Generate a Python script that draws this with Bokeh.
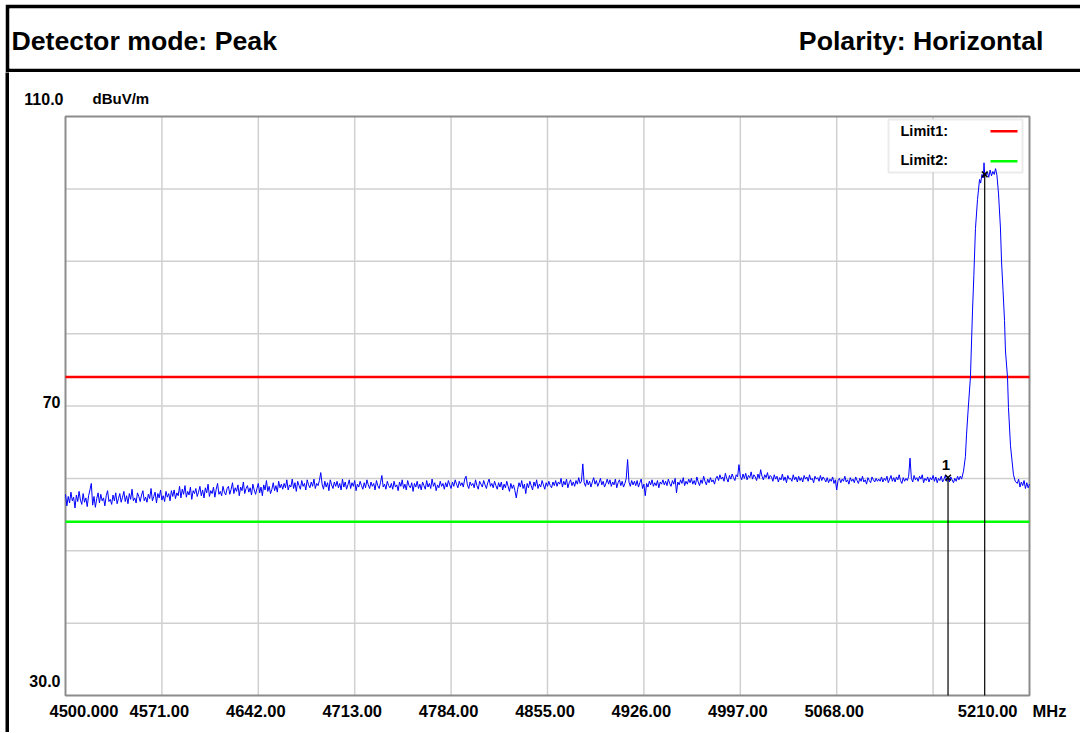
from bokeh.plotting import figure
from bokeh.layouts import column, row
from bokeh.models import Range1d, Label, BoxAnnotation, Spacer
from bokeh.embed import file_html
from bokeh.resources import INLINE

# ---------------- data ----------------
header_left = "Detector mode: Peak"
header_right = "Polarity: Horizontal"

freq_start = 4500.0
freq_stop = 5210.0
level_min = 30.0
level_max = 110.0

x_ticks = [4571, 4642, 4713, 4784, 4855, 4926, 4997, 5068]
x_tick_labels = ["4571.00", "4642.00", "4713.00", "4784.00", "4855.00",
                 "4926.00", "4997.00", "5068.00"]
x_grid = [4571, 4642, 4713, 4784, 4855, 4926, 4997, 5068, 5139]
y_grid = [40, 50, 60, 70, 80, 90, 100]
start_label = "4500.000"
stop_label = "5210.00"
x_unit = "MHz"
y_unit = "dBuV/m"
y_label_values = [110, 70, 30]
y_label_texts = ["110.0", "70", "30.0"]

limit_names = ["Limit1:", "Limit2:"]
limit_levels = [74.0, 54.0]
limit_colors = ["#ff0000", "#00ff00"]

# sweep (peak detector), 1 MHz steps from 4500 MHz up to 5158 MHz
sweep_step = 1.0
sweep_levels = [
    57.8, 56.2, 57.5, 56.6, 58.1, 56.9, 57.4, 55.9, 57.7, 56.8, 58.2, 57.0, 56.4, 57.9, 56.7, 57.3, 56.1, 57.6, 58.4, 59.3,
    56.3, 57.5, 56.0, 57.2, 58.0, 56.6, 57.8, 56.9, 57.3, 56.2, 57.6, 58.3, 56.8, 57.1, 56.4, 57.7, 56.9, 58.0, 56.5, 57.2,
    57.9, 56.7, 57.4, 58.2, 56.8, 57.6, 56.5, 57.9, 57.1, 58.5, 56.9, 57.3, 56.6, 58.0, 57.5, 56.8, 57.7, 58.3, 56.9, 57.4,
    56.7, 57.8, 57.2, 58.6, 56.9, 57.5, 58.1, 56.6, 57.9, 57.3, 58.4, 57.0, 57.6, 56.8, 58.2, 57.4, 57.9, 56.9, 58.3, 57.5,
    58.4, 57.2, 58.0, 57.6, 58.9, 57.3, 58.5, 57.8, 59.0, 57.4, 58.2, 57.7, 58.8, 57.1, 58.3, 57.9, 58.6, 57.5, 58.1, 58.9,
    57.6, 58.4, 57.3, 58.7, 58.0, 59.2, 57.5, 58.3, 57.9, 58.8, 57.4, 58.5, 59.3, 57.8, 58.2, 57.6, 58.9, 58.1, 57.7, 58.6,
    58.9, 57.8, 58.5, 59.4, 57.9, 58.7, 58.2, 59.1, 57.6, 58.8, 58.3, 59.5, 57.9, 58.6, 59.0, 58.1, 58.7, 57.7, 59.2, 58.4,
    57.8, 58.6, 59.3, 58.0, 58.8, 57.6, 59.1, 58.4, 59.7, 58.2, 58.9, 57.9, 58.5, 59.4, 58.3, 59.0, 58.1, 59.6, 58.7, 59.2,
    58.5, 59.3, 58.7, 59.8, 58.4, 59.1, 58.8, 59.9, 58.6, 59.4, 58.2, 59.6, 59.0, 58.5, 59.7, 58.9, 59.3, 58.4, 59.8, 59.1,
    58.7, 59.5, 58.9, 59.9, 58.6, 59.3, 59.0, 59.7, 60.8, 59.2, 58.5, 59.6, 58.8, 59.4, 58.3, 59.8, 59.1, 58.6, 59.5, 58.9,
    59.6, 58.7, 59.3, 58.4, 59.9, 58.8, 59.5, 58.5, 59.1, 59.8, 58.6, 59.4, 58.9, 59.7, 58.3, 59.2, 58.8, 59.6, 59.0, 58.5,
    59.4, 58.7, 59.8, 59.1, 58.6, 59.5, 58.9, 59.3, 58.4, 59.7, 59.0, 58.6, 59.4, 60.4, 58.8, 59.2, 58.5, 59.6, 59.0, 58.7,
    59.3, 58.5, 59.6, 58.8, 59.1, 58.3, 59.5, 58.9, 59.8, 58.6, 59.2, 58.4, 59.7, 59.0, 58.7, 59.4, 58.2, 59.3, 58.8, 59.6,
    58.6, 59.2, 58.4, 59.5, 59.0, 58.5, 59.7, 58.8, 59.3, 58.6, 59.9, 58.9, 59.4, 58.3, 59.1, 58.7, 59.6, 58.9, 59.3, 58.5,
    59.4, 58.8, 59.7, 59.1, 58.6, 59.5, 58.9, 59.8, 59.2, 58.7, 59.6, 59.0, 59.4, 58.8, 59.9, 60.3, 59.1, 58.6, 59.5, 59.0,
    59.3, 58.7, 59.8, 59.0, 58.5, 59.6, 59.2, 58.8, 59.7, 59.1, 58.6, 59.4, 59.9, 58.9, 59.3, 58.7, 59.6, 59.0, 58.5, 59.4,
    58.8, 59.5, 58.4, 59.2, 58.7, 59.6, 58.9, 58.2, 59.3, 58.6, 59.1, 58.3, 57.3, 58.5, 59.4, 58.8, 59.7, 58.6, 59.2, 57.9,
    59.3, 58.7, 59.6, 59.0, 58.4, 59.5, 58.9, 59.8, 58.6, 59.2, 58.8, 59.7, 59.1, 58.5, 59.4, 58.9, 59.6, 59.0, 58.7, 59.5,
    59.0, 59.7, 58.9, 59.5, 59.2, 60.0, 58.8, 59.6, 59.1, 59.9, 58.7, 59.4, 59.8, 59.0, 59.5, 58.9, 59.7, 59.2, 60.1, 59.3,
    59.6, 62.0, 59.4, 58.9, 59.8, 59.1, 59.6, 58.8, 59.5, 60.1, 59.2, 59.7, 58.9, 59.4, 60.0, 59.1, 59.6, 58.8, 59.3, 59.9,
    59.2, 59.8, 58.9, 59.5, 59.1, 59.9, 58.7, 59.4, 59.8, 59.0, 59.6, 58.8, 59.3, 60.0, 62.6, 59.5, 58.9, 59.7, 59.1, 59.6,
    59.0, 59.7, 58.8, 59.4, 59.9, 58.6, 59.2, 57.6, 59.3, 58.8, 59.6, 59.1, 59.8, 58.9, 59.4, 59.0, 59.7, 58.7, 59.5, 59.2,
    59.8, 59.1, 59.6, 59.0, 59.9, 59.3, 58.9, 59.7, 59.2, 60.0, 58.0, 59.5, 59.1, 59.8, 59.3, 60.1, 59.0, 59.6, 59.2, 59.9,
    59.4, 60.0, 59.2, 59.7, 59.1, 60.2, 59.5, 59.0, 59.8, 59.3, 60.3, 59.6, 59.1, 59.9, 59.4, 60.1, 59.5, 59.8, 59.2, 60.0,
    60.3, 59.7, 60.5, 59.9, 60.2, 59.6, 60.7, 60.0, 59.5, 60.4, 59.9, 60.6, 60.1, 59.7, 60.5, 60.2, 61.9, 60.3, 59.8, 60.6,
    60.0, 60.7, 59.8, 60.4, 60.1, 60.9, 59.9, 60.5, 60.2, 59.7, 60.6, 60.0, 61.2, 60.3, 59.8, 60.5, 60.1, 60.8, 59.9, 60.4,
    60.2, 59.6, 60.5, 59.9, 60.3, 59.5, 60.1, 59.8, 60.6, 59.7, 60.2, 59.4, 60.4, 59.9, 60.0, 59.6, 60.5, 59.8, 60.2, 59.5,
    60.3, 59.7, 60.1, 59.5, 60.4, 59.9, 60.2, 59.6, 60.5, 59.8, 60.0, 59.4, 60.3, 59.9, 60.1, 59.6, 60.4, 59.7, 60.2, 59.9,
    59.5, 60.1, 59.4, 59.9, 59.6, 60.2, 59.3, 59.8, 58.4, 59.7, 60.0, 59.4, 59.9, 59.6, 60.3, 59.5, 59.8, 59.2, 60.1, 59.6,
    59.9, 59.4, 60.2, 59.7, 59.3, 60.0, 59.6, 60.3, 59.5, 59.8, 59.2, 60.1, 59.7, 59.4, 60.2, 59.8, 59.5, 60.0, 59.6, 59.9,
    59.6, 60.2, 59.5, 60.0, 59.7, 60.3, 59.4, 59.9, 60.4, 59.6, 60.1, 59.5, 60.2, 59.8, 60.5, 59.7, 59.3, 60.1, 59.6, 60.0,
    59.7, 60.3, 62.8, 60.0, 59.5, 60.4, 59.8, 60.1, 59.6, 60.3, 59.9, 60.5, 59.4, 60.0, 59.7, 60.2, 59.5, 60.1, 59.8, 60.4,
    59.6, 60.2, 59.4, 60.0, 59.7, 60.3, 59.5, 59.9, 60.4, 59.6, 60.1, 59.5, 60.2, 59.8, 59.4, 60.0, 59.6, 60.3, 59.8,
]

# carrier region, read point by point
peak_freqs = [5159.0, 5160.0, 5161.4, 5162.8, 5163.6, 5165.0, 5166.5, 5168.0, 5169.0,
              5170.2, 5171.7, 5173.2, 5174.0, 5175.0, 5176.0, 5176.5, 5177.0, 5178.0,
              5179.0, 5180.0, 5181.0, 5182.0, 5183.0, 5184.0, 5185.0, 5186.0, 5187.2,
              5188.6, 5189.4, 5190.5, 5191.6, 5192.3, 5193.8, 5194.5, 5196.0, 5198.2,
              5199.5, 5201.0, 5202.0, 5203.0, 5204.0, 5205.0, 5206.0, 5207.0, 5208.0,
              5209.0, 5210.0]
peak_levels = [60.3, 59.9, 61.0, 63.0, 66.0, 70.0, 74.0, 83.0, 88.0,
               94.5, 98.5, 101.3, 100.8, 102.0, 101.5, 103.6, 102.0, 101.9,
               102.3, 101.6, 102.6, 101.8, 102.4, 102.0, 102.8, 101.9, 99.3,
               94.6, 90.0, 86.0, 81.8, 77.6, 74.0, 69.8, 64.5, 60.5,
               59.6, 59.3, 59.9, 58.8, 59.5, 59.0, 59.7, 58.6, 59.4,
               58.7, 59.2]

marker_names = ["1", "2"]
marker_freqs = [5150.0, 5177.0]
marker_levels = [60.1, 102.0]

# ---------------- styles / layout constants ----------------
HEAD_FONT = "Liberation Sans"
TICK_FONT = "Liberation Sans"
GRID = "#d0d0d0"
FRAME = "#8c8c8c"

# main figure occupies page x 9..1080, y 72..732 ; plot box page x 65..1029, y 116..695
FIG_W, FIG_H = 1071, 660
BOX_L, BOX_R, BOX_T, BOX_B = 56, 51, 44, 37
BOX_W = FIG_W - BOX_L - BOX_R
BOX_H = FIG_H - BOX_T - BOX_B
kx = (freq_stop - freq_start) / BOX_W
ky = (level_max - level_min) / BOX_H

sweep_freqs = [freq_start + i * sweep_step for i in range(len(sweep_levels))]
trace_f = sweep_freqs + peak_freqs
trace_l = sweep_levels + peak_levels


def txt(**kw):
    base = dict(text_font=TICK_FONT, text_font_style="bold", text_color="black",
                text_baseline="middle")
    base.update(kw)
    return Label(**base)


# ---------------- header ----------------
h = figure(width=1075, height=68, x_range=Range1d(0, 1071), y_range=Range1d(0, 60),
           x_axis_location=None, y_axis_location=None, output_backend="svg",
           toolbar_location=None, min_border_left=4, min_border_right=0,
           min_border_top=4, min_border_bottom=4, border_fill_color="black",
           background_fill_color="white", outline_line_color=None)
h.grid.visible = False
h.add_layout(txt(x=2, y=28, text=header_left, text_font=HEAD_FONT,
                 text_font_size="26.7px", text_align="left"))
h.add_layout(txt(x=1034, y=28, text=header_right, text_font=HEAD_FONT,
                 text_font_size="26.7px", text_align="right"))

# ---------------- left black bar ----------------
bar = figure(width=4, height=FIG_H, x_axis_location=None, y_axis_location=None,
             output_backend="svg", toolbar_location=None, min_border=0,
             background_fill_color="black", border_fill_color="black",
             outline_line_color=None)
bar.grid.visible = False

# ---------------- main plot ----------------
p = figure(width=FIG_W, height=FIG_H,
           x_range=Range1d(freq_start - BOX_L * kx, freq_stop + BOX_R * kx),
           y_range=Range1d(level_min - BOX_B * ky, level_max + BOX_T * ky),
           x_axis_location=None, y_axis_location=None,
           output_backend="svg", toolbar_location=None, min_border=0,
           background_fill_color="white", border_fill_color="white",
           outline_line_color=None)
p.grid.visible = False

# grid lines, bounded to the plot box
p.segment(x0=x_grid, x1=x_grid, y0=[level_min] * len(x_grid), y1=[level_max] * len(x_grid),
          line_color=GRID, line_width=1.5, level="image")
p.segment(x0=[freq_start] * len(y_grid), x1=[freq_stop] * len(y_grid), y0=y_grid, y1=y_grid,
          line_color=GRID, line_width=1.5, level="image")

# legend box (behind the trace, above the grid)
LEG_L, LEG_R, LEG_B, LEG_T = 879, 1013, 560, 613
p.add_layout(BoxAnnotation(left=LEG_L, right=LEG_R, bottom=LEG_B, top=LEG_T,
                           left_units="screen", right_units="screen",
                           bottom_units="screen", top_units="screen",
                           fill_color="white", fill_alpha=1.0,
                           line_color="#bdbdbd", line_width=2, level="underlay"))

# plot box frame
p.quad(left=[freq_start], right=[freq_stop], bottom=[level_min], top=[level_max],
       fill_color=None, line_color=FRAME, line_width=2)

# limit lines
p.segment(x0=[freq_start] * len(limit_levels), x1=[freq_stop] * len(limit_levels),
          y0=limit_levels, y1=limit_levels, line_color=limit_colors, line_width=2.5)

# trace
p.line(trace_f, trace_l, line_color="#0000ff", line_width=1)

# markers
p.segment(x0=marker_freqs, y0=[level_min] * len(marker_freqs), x1=marker_freqs, y1=marker_levels,
          line_color="black", line_width=1.2)
p.scatter(marker_freqs, marker_levels, marker="x", size=8, line_color="black", line_width=1.5)
p.add_layout(txt(x=marker_freqs[0], y=marker_levels[0], text=marker_names[0],
                 x_offset=-2, y_offset=13, text_align="center", text_font_size="15px"))

# legend entries
for i, (name, col) in enumerate(zip(limit_names, limit_colors)):
    ty = 602 - 29 * i
    ly = 601.3 - 30 * i
    p.add_layout(txt(x=LEG_L + 12, y=ty, x_units="screen", y_units="screen", text=name,
                     text_align="left", text_font_size="14.5px"))
    p.add_layout(BoxAnnotation(left=LEG_R - 32, right=LEG_R - 5, bottom=ly - 1.3, top=ly + 1.3,
                               left_units="screen", right_units="screen",
                               bottom_units="screen", top_units="screen",
                               fill_color=col, fill_alpha=1.0, line_color=None))

# x tick labels
for xv, t in zip(x_ticks, x_tick_labels):
    p.add_layout(txt(x=xv, y=level_min, text=t, x_offset=-2.5, y_offset=-15,
                     text_align="center", text_font_size="16.5px"))
p.add_layout(txt(x=freq_start, y=level_min, text=start_label, x_offset=-16, y_offset=-15,
                 text_align="left", text_font_size="16.5px"))
p.add_layout(txt(x=freq_stop, y=level_min, text=stop_label, x_offset=-12, y_offset=-15,
                 text_align="right", text_font_size="16.5px"))
p.add_layout(txt(x=freq_stop, y=level_min, text=x_unit, x_offset=3, y_offset=-15,
                 text_align="left", text_font_size="16.5px"))

# y labels
y_offsets = [(-2, 18), (-5, 4.5), (-5, 15)]
for v, t, (dx, dy) in zip(y_label_values, y_label_texts, y_offsets):
    p.add_layout(txt(x=freq_start, y=v, text=t, x_offset=dx, y_offset=dy,
                     text_align="right", text_font_size="16px"))
p.add_layout(txt(x=freq_start, y=level_max, text=y_unit, x_offset=27, y_offset=18,
                 text_align="left", text_font_size="15px"))

layout = column(Spacer(width=1080, height=4),
                row(Spacer(width=5, height=728),
                    column(h, row(bar, p, spacing=0), spacing=0), spacing=0),
                spacing=0)
open("out.html", "w").write(file_html(layout, INLINE))
